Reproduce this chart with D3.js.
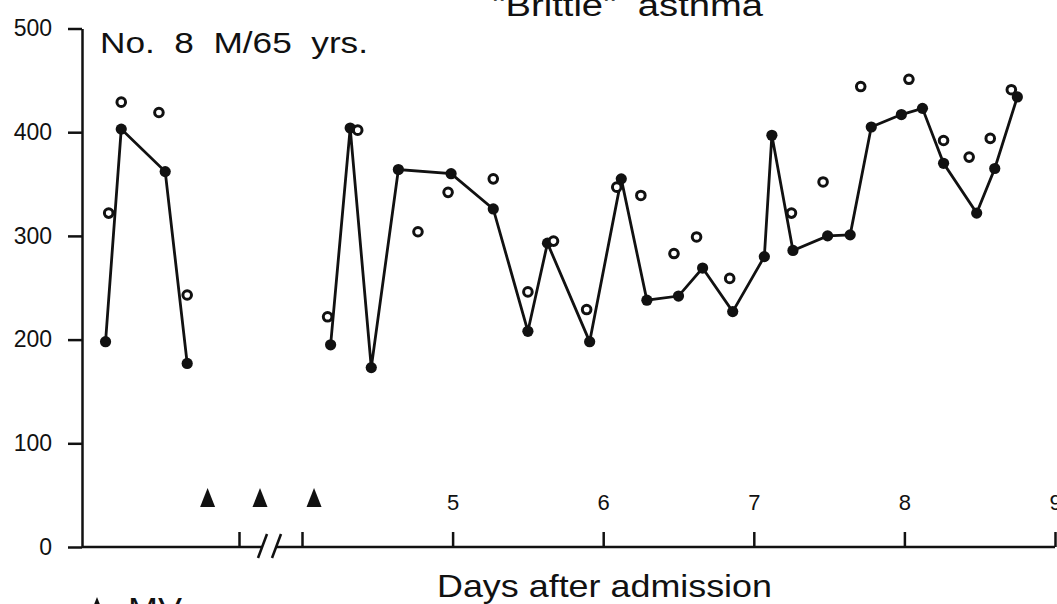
<!DOCTYPE html>
<html>
<head>
<meta charset="utf-8">
<script src="https://cdn.jsdelivr.net/npm/d3@7"></script>
<style>
body { margin: 0; background: #fff; }
text { font-family: "Liberation Sans", Arial, sans-serif; fill: #111; white-space: pre; }
</style>
</head>
<body>
<div id="chart"></div>
<script>
// datos (días tras ingreso, PEF l/min)
const leftDays  = [0.15, 0.25, 0.53, 0.67]
const leftPef   = [198, 403, 362, 177]
const rightDays = [4.19, 4.32, 4.46, 4.64, 4.99, 5.27, 5.50, 5.63, 5.91, 6.12, 6.29, 6.50, 6.66,
                   6.86, 7.07, 7.12, 7.26, 7.49, 7.64, 7.78, 7.98, 8.12, 8.26, 8.48, 8.60, 8.75]
const rightPef  = [195, 404, 173, 364, 360, 326, 208, 293, 198, 355, 238, 242, 269,
                   227, 280, 397, 286, 300, 301, 405, 417, 423, 370, 322, 365, 434]
const openDays  = [0.17, 0.25, 0.49, 0.67, 4.17, 4.37, 4.77, 4.97, 5.27, 5.50, 5.67, 5.89, 6.09,
                   6.25, 6.47, 6.62, 6.84, 7.25, 7.46, 7.71, 8.03, 8.26, 8.43, 8.57, 8.71]
const openPef   = [322, 429, 419, 243, 222, 402, 304, 342, 355, 246, 295, 229, 347,
                   339, 283, 299, 259, 322, 352, 444, 451, 392, 376, 394, 441]
const mvDays    = [0.80, 2.0, 4.08]
const xTicks    = [1, 4, 5, 6, 7, 8, 9]
const yTicks    = [0, 100, 200, 300, 400, 500]

const width = 1057
const height = 604

const svg = d3.select("div#chart")
    .append("svg")
    .attr("width", width)
    .attr("height", height)

// escalas (eje x con corte entre día 1 y día 4)
const x = d3.scaleLinear()
    .domain([0, 1, 4, 9])
    .range([82, 239, 302, 1055])
const y = d3.scaleLinear()
    .domain([0, 500])
    .range([547, 28.5])

// eje y
const yAxisGroup = svg.append("g")
    .attr("transform", `translate(${x(0)},0)`)
    .call(d3.axisLeft(y).tickValues(yTicks).tickSize(14).tickSizeOuter(0).tickPadding(16))
yAxisGroup.attr("font-size", null).attr("font-family", null)
yAxisGroup.select(".domain").attr("stroke", "#111").attr("stroke-width", 2.5)
yAxisGroup.selectAll(".tick line").attr("stroke", "#111").attr("stroke-width", 2.5)
yAxisGroup.selectAll(".tick text").style("font-size", "23px")

// eje x
const xAxisGroup = svg.append("g")
    .attr("transform", `translate(0,${y(0)})`)
    .call(d3.axisTop(x).tickValues(xTicks).tickFormat(d => d >= 5 ? d : "")
        .tickSize(15).tickPadding(22))
xAxisGroup.attr("font-size", null).attr("font-family", null)
xAxisGroup.select(".domain").remove()
xAxisGroup.selectAll(".tick line").attr("stroke", "#111").attr("stroke-width", 2.5)
xAxisGroup.selectAll(".tick text").style("font-size", "22px")

// línea base con el corte //
const axisLine = svg.append("g").attr("stroke", "#111").attr("stroke-width", 2.5)
axisLine.append("line").attr("x1", x(0)).attr("x2", 262).attr("y1", y(0)).attr("y2", y(0))
axisLine.append("line").attr("x1", 276).attr("x2", x(9)).attr("y1", y(0)).attr("y2", y(0))
axisLine.append("line").attr("x1", 258).attr("y1", y(0) + 11).attr("x2", 267).attr("y2", y(0) - 13)
axisLine.append("line").attr("x1", 272).attr("y1", y(0) + 11).attr("x2", 281).attr("y2", y(0) - 13)

// líneas
const line = d3.line().x(d => x(d[0])).y(d => y(d[1]))
const segments = [d3.zip(leftDays, leftPef), d3.zip(rightDays, rightPef)]
svg.selectAll("path.pef")
    .data(segments)
    .enter()
    .append("path")
    .attr("class", "pef")
    .attr("d", line)
    .attr("fill", "none")
    .attr("stroke", "#111")
    .attr("stroke-width", 2.8)

// puntos rellenos
svg.selectAll("circle.filled")
    .data(segments.flat())
    .enter()
    .append("circle")
    .attr("class", "filled")
    .attr("cx", d => x(d[0]))
    .attr("cy", d => y(d[1]))
    .attr("r", 5.6)
    .attr("fill", "#111")

// puntos abiertos
svg.selectAll("circle.open")
    .data(d3.zip(openDays, openPef))
    .enter()
    .append("circle")
    .attr("class", "open")
    .attr("cx", d => x(d[0]))
    .attr("cy", d => y(d[1]))
    .attr("r", 4.3)
    .attr("fill", "#fff")
    .attr("stroke", "#111")
    .attr("stroke-width", 3)

// flechas MV
const tri = (cx, top) => `M${cx},${top}L${cx - 7.5},${top + 19}L${cx + 7.5},${top + 19}Z`
svg.selectAll("path.mv")
    .data(mvDays)
    .enter()
    .append("path")
    .attr("class", "mv")
    .attr("d", d => tri(x(d), 488))
    .attr("fill", "#111")

// textos
svg.append("text")
    .attr("x", 100).attr("y", 53)
    .attr("font-size", 30)
    .attr("textLength", 268).attr("lengthAdjust", "spacingAndGlyphs")
    .text("No.  8  M/65  yrs.")
svg.append("text")
    .attr("x", 492).attr("y", 16)
    .attr("font-size", 31)
    .attr("textLength", 271).attr("lengthAdjust", "spacingAndGlyphs")
    .text("\"Brittle\"  asthma")
svg.append("text")
    .attr("x", 437).attr("y", 597)
    .attr("font-size", 32)
    .attr("textLength", 335).attr("lengthAdjust", "spacingAndGlyphs")
    .text("Days after admission")

// leyenda
svg.append("path").attr("d", tri(97, 597)).attr("fill", "#111")
svg.append("text")
    .attr("x", 128).attr("y", 620)
    .attr("font-size", 32)
    .attr("textLength", 54).attr("lengthAdjust", "spacingAndGlyphs")
    .text("MV")
</script>
</body>
</html>
